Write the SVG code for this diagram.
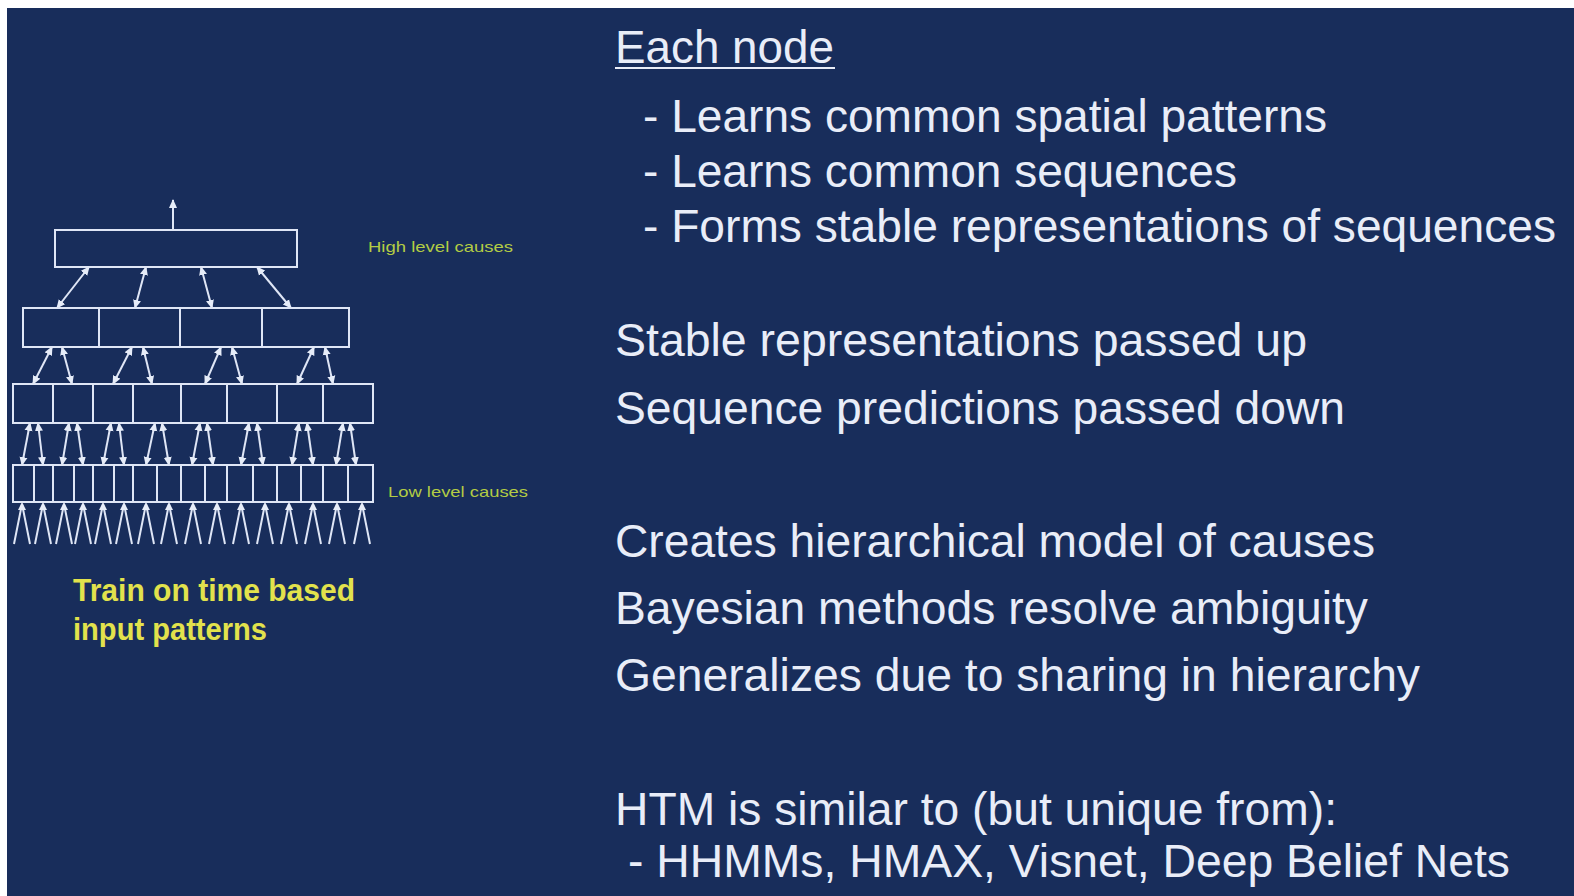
<svg xmlns="http://www.w3.org/2000/svg" width="1574" height="896" viewBox="0 0 1574 896">
<style>
.box{fill:none;stroke:#dfe6f6;stroke-width:2}
.div{stroke:#dfe6f6;stroke-width:2}
.c{stroke:#dfe6f6;stroke-width:2;fill:none}
.bi{marker-start:url(#ah);marker-end:url(#ah)}
.up{marker-end:url(#ah)}
.t{font-family:"Liberation Sans",Arial,sans-serif;font-size:46px;fill:#e9edf8}
.n{font-family:"Liberation Sans",Arial,sans-serif;font-size:47px;fill:#e9edf8}
.lbl{font-family:"Liberation Sans",Arial,sans-serif;font-size:15px;fill:#b3cc44}
.y{font-family:"Liberation Sans",Arial,sans-serif;font-size:31px;font-weight:bold;fill:#e2e24c}
</style>
<defs>
<marker id="ah" markerUnits="userSpaceOnUse" markerWidth="9" markerHeight="9" refX="8" refY="4.5" orient="auto-start-reverse">
<path d="M0,0.5 L9,4.5 L0,8.5 z" fill="#e6ecf8"/>
</marker>
</defs>
<rect x="0" y="0" width="1574" height="896" fill="#ffffff"/>
<rect x="7" y="8" width="1567" height="888" fill="#182d5b"/>

<g id="connectors">
<line class="c up" x1="173" y1="230" x2="173" y2="200"/>
<line class="c bi" x1="89" y1="267" x2="57" y2="308"/>
<line class="c bi" x1="146" y1="267" x2="135" y2="308"/>
<line class="c bi" x1="201" y1="267" x2="212" y2="308"/>
<line class="c bi" x1="257" y1="267" x2="291" y2="308"/>

<line class="c bi" x1="52" y1="347" x2="33" y2="384"/>
<line class="c bi" x1="62" y1="347" x2="72" y2="384"/>
<line class="c bi" x1="132" y1="347" x2="113" y2="384"/>
<line class="c bi" x1="143" y1="347" x2="152" y2="384"/>
<line class="c bi" x1="221" y1="347" x2="205" y2="384"/>
<line class="c bi" x1="232" y1="347" x2="242" y2="384"/>
<line class="c bi" x1="314" y1="347" x2="297" y2="384"/>
<line class="c bi" x1="325" y1="347" x2="333" y2="384"/>

<line class="c bi" x1="30" y1="423" x2="22" y2="465"/>
<line class="c bi" x1="38" y1="423" x2="43" y2="465"/>
<line class="c bi" x1="69" y1="423" x2="62" y2="465"/>
<line class="c bi" x1="77" y1="423" x2="83" y2="465"/>
<line class="c bi" x1="111" y1="423" x2="103" y2="465"/>
<line class="c bi" x1="119" y1="423" x2="124" y2="465"/>
<line class="c bi" x1="155" y1="423" x2="146" y2="465"/>
<line class="c bi" x1="162" y1="423" x2="169" y2="465"/>
<line class="c bi" x1="200" y1="423" x2="192" y2="465"/>
<line class="c bi" x1="207" y1="423" x2="213" y2="465"/>
<line class="c bi" x1="249" y1="423" x2="241" y2="465"/>
<line class="c bi" x1="257" y1="423" x2="263" y2="465"/>
<line class="c bi" x1="299" y1="423" x2="292" y2="465"/>
<line class="c bi" x1="307" y1="423" x2="313" y2="465"/>
<line class="c bi" x1="343" y1="423" x2="336" y2="465"/>
<line class="c bi" x1="350" y1="423" x2="356" y2="465"/>

<g id="inputs">
<path class="c" d="M14,544 L22,504 L30,544 M35,544 L43,504 L51,544 M56,544 L64,504 L72,544 M75,544 L83,504 L91,544 M95,544 L103,504 L111,544 M116,544 L124,504 L132,544 M138,544 L146,504 L154,544 M161,544 L169,504 L177,544 M185,544 L193,504 L201,544 M209,544 L217,504 L225,544 M233,544 L241,504 L249,544 M257,544 L265,504 L273,544 M281,544 L289,504 L297,544 M305,544 L313,504 L321,544 M329,544 L337,504 L345,544 M354,544 L362,504 L370,544"/>
<g fill="#e6ecf8">
<path d="M22,502 l-4,8 h8 z"/><path d="M43,502 l-4,8 h8 z"/><path d="M64,502 l-4,8 h8 z"/><path d="M83,502 l-4,8 h8 z"/>
<path d="M103,502 l-4,8 h8 z"/><path d="M124,502 l-4,8 h8 z"/><path d="M146,502 l-4,8 h8 z"/><path d="M169,502 l-4,8 h8 z"/>
<path d="M193,502 l-4,8 h8 z"/><path d="M217,502 l-4,8 h8 z"/><path d="M241,502 l-4,8 h8 z"/><path d="M265,502 l-4,8 h8 z"/>
<path d="M289,502 l-4,8 h8 z"/><path d="M313,502 l-4,8 h8 z"/><path d="M337,502 l-4,8 h8 z"/><path d="M362,502 l-4,8 h8 z"/>
</g>
</g>
</g>

<g id="level1">
<rect class="box" x="55" y="230" width="242" height="37"/>
</g>
<g id="level2">
<rect class="box" x="23" y="308" width="326" height="39"/>
<line class="div" x1="99" y1="308" x2="99" y2="347"/>
<line class="div" x1="180" y1="308" x2="180" y2="347"/>
<line class="div" x1="262" y1="308" x2="262" y2="347"/>
</g>
<g id="level3">
<rect class="box" x="13" y="384" width="360" height="39"/>
<line class="div" x1="53" y1="384" x2="53" y2="423"/>
<line class="div" x1="93" y1="384" x2="93" y2="423"/>
<line class="div" x1="133" y1="384" x2="133" y2="423"/>
<line class="div" x1="181" y1="384" x2="181" y2="423"/>
<line class="div" x1="227" y1="384" x2="227" y2="423"/>
<line class="div" x1="277" y1="384" x2="277" y2="423"/>
<line class="div" x1="323" y1="384" x2="323" y2="423"/>
</g>
<g id="level4">
<rect class="box" x="13" y="465" width="360" height="37"/>
<path class="div" d="M34,465V502 M53,465V502 M74,465V502 M93,465V502 M114,465V502 M133,465V502 M157,465V502 M181,465V502 M205,465V502 M227,465V502 M253,465V502 M277,465V502 M301,465V502 M323,465V502 M348,465V502"/>
</g>

<g id="labels">
<text class="lbl" x="368" y="252" textLength="145" lengthAdjust="spacingAndGlyphs">High level causes</text>
<text class="lbl" x="388" y="497" textLength="140" lengthAdjust="spacingAndGlyphs">Low level causes</text>
<text class="y" x="73" y="601" textLength="282" lengthAdjust="spacingAndGlyphs">Train on time based</text>
<text class="y" x="73" y="640" textLength="194" lengthAdjust="spacingAndGlyphs">input patterns</text>
</g>

<g id="text">
<text class="t" x="615" y="63" textLength="219" lengthAdjust="spacingAndGlyphs">Each node</text>
<line x1="615" y1="68" x2="835" y2="68" stroke="#e9edf8" stroke-width="2"/>
<text class="t" x="643" y="132" textLength="684" lengthAdjust="spacingAndGlyphs">- Learns common spatial patterns</text>
<text class="t" x="643" y="187" textLength="594" lengthAdjust="spacingAndGlyphs">- Learns common sequences</text>
<text class="t" x="643" y="242" textLength="913" lengthAdjust="spacingAndGlyphs">- Forms stable representations of sequences</text>
<text class="t" x="615" y="356" textLength="692" lengthAdjust="spacingAndGlyphs">Stable representations passed up</text>
<text class="t" x="615" y="424" textLength="730" lengthAdjust="spacingAndGlyphs">Sequence predictions passed down</text>
<text class="t" x="615" y="557" textLength="760" lengthAdjust="spacingAndGlyphs">Creates hierarchical model of causes</text>
<text class="t" x="615" y="624" textLength="753" lengthAdjust="spacingAndGlyphs">Bayesian methods resolve ambiguity</text>
<text class="t" x="615" y="691" textLength="805" lengthAdjust="spacingAndGlyphs">Generalizes due to sharing in hierarchy</text>
<text class="n" x="615" y="825" textLength="722" lengthAdjust="spacingAndGlyphs">HTM is similar to (but unique from):</text>
<text class="n" x="628" y="877" textLength="882" lengthAdjust="spacingAndGlyphs">- HHMMs, HMAX, Visnet, Deep Belief Nets</text>
</g>
</svg>
